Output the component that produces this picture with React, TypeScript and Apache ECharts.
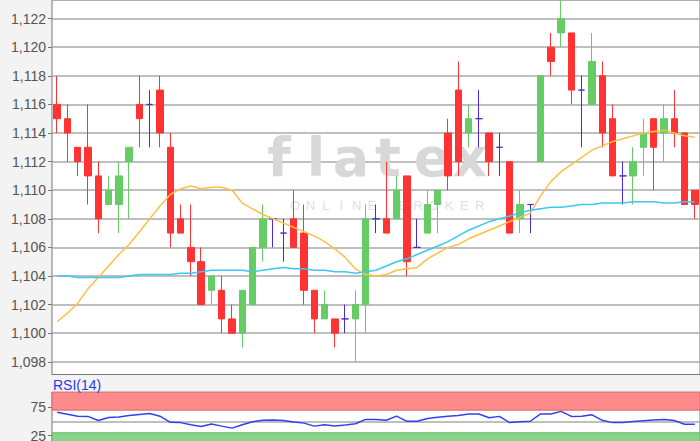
import React, { useEffect, useRef } from "react";
import * as echarts from "echarts";

const categories = Array.from({ length: 63 }, (_, i) => String(i + 1));

const opens = [
  1.116, 1.115, 1.113, 1.113, 1.111, 1.109, 1.109, 1.112, 1.116, 1.116,
  1.117, 1.113, 1.108, 1.106, 1.105, 1.103, 1.103, 1.101, 1.100, 1.102,
  1.106, 1.108, 1.107, 1.108, 1.107, 1.103, 1.101, 1.101, 1.101, 1.101,
  1.102, 1.108, 1.108, 1.108, 1.111, 1.106, 1.107, 1.109, 1.114, 1.117,
  1.114, 1.115, 1.114, 1.113, 1.112, 1.108, 1.109, 1.112, 1.120, 1.121,
  1.121, 1.117, 1.116, 1.118, 1.115, 1.111, 1.111, 1.113, 1.115, 1.114,
  1.115, 1.114, 1.110,
];
const closes = [
  1.115, 1.114, 1.112, 1.111, 1.108, 1.110, 1.111, 1.113, 1.115, 1.116,
  1.114, 1.107, 1.107, 1.105, 1.102, 1.104, 1.101, 1.100, 1.103, 1.106,
  1.108, 1.108, 1.107, 1.106, 1.103, 1.101, 1.102, 1.100, 1.101, 1.102,
  1.108, 1.108, 1.107, 1.110, 1.105, 1.106, 1.109, 1.110, 1.111, 1.112,
  1.115, 1.115, 1.112, 1.113, 1.107, 1.109, 1.109, 1.118, 1.119, 1.122,
  1.117, 1.117, 1.119, 1.114, 1.111, 1.111, 1.112, 1.114, 1.113, 1.115,
  1.114, 1.109, 1.109,
];
const highs = [
  1.118, 1.116, 1.113, 1.116, 1.112, 1.111, 1.112, 1.113, 1.118, 1.117,
  1.118, 1.114, 1.109, 1.109, 1.106, 1.104, 1.104, 1.102, 1.103, 1.106,
  1.109, 1.108, 1.108, 1.110, 1.109, 1.103, 1.103, 1.101, 1.102, 1.103,
  1.109, 1.109, 1.112, 1.111, 1.111, 1.108, 1.110, 1.110, 1.115, 1.119,
  1.116, 1.117, 1.114, 1.114, 1.112, 1.110, 1.109, 1.118, 1.121, 1.124,
  1.121, 1.118, 1.121, 1.119, 1.116, 1.112, 1.113, 1.115, 1.115, 1.116,
  1.117, 1.114, 1.110,
];
const lows = [
  1.114, 1.112, 1.111, 1.109, 1.107, 1.109, 1.107, 1.108, 1.113, 1.113,
  1.113, 1.106, 1.107, 1.104, 1.102, 1.102, 1.100, 1.100, 1.099, 1.102,
  1.105, 1.106, 1.105, 1.106, 1.102, 1.100, 1.101, 1.099, 1.100, 1.098,
  1.100, 1.107, 1.107, 1.108, 1.104, 1.106, 1.107, 1.107, 1.110, 1.111,
  1.113, 1.113, 1.111, 1.111, 1.107, 1.107, 1.107, 1.112, 1.118, 1.120,
  1.116, 1.113, 1.116, 1.113, 1.111, 1.109, 1.109, 1.111, 1.110, 1.112,
  1.113, 1.109, 1.108,
];

const maShort = [
  1.1008, 1.1014, 1.1021, 1.1031, 1.1039, 1.1047, 1.1055, 1.1062, 1.1071, 1.108,
  1.1089, 1.1097, 1.1101, 1.1103, 1.1101, 1.1102, 1.1102, 1.11, 1.1091, 1.1087,
  1.1083, 1.108, 1.1077, 1.1074, 1.1071, 1.1068, 1.1064, 1.1059, 1.1053, 1.1045,
  1.1041, 1.104, 1.1041, 1.1044, 1.1045, 1.1046, 1.1052, 1.1056, 1.106, 1.1062,
  1.1066, 1.1069, 1.1072, 1.1075, 1.1078, 1.1081, 1.1084, 1.1096, 1.1106, 1.1113,
  1.1118, 1.1123, 1.1128, 1.1131, 1.1134, 1.1136, 1.1138, 1.114, 1.1141, 1.1142,
  1.114, 1.1138, 1.1137,
];
const maLong = [
  1.104, 1.104, 1.1039, 1.1039, 1.1039, 1.1039, 1.1039, 1.104, 1.1041, 1.1041,
  1.1041, 1.1041, 1.1042, 1.1042, 1.1043, 1.1044, 1.1044, 1.1044, 1.1044, 1.1043,
  1.1044, 1.1045, 1.1046, 1.1045, 1.1045, 1.1044, 1.1044, 1.1043, 1.1043, 1.1042,
  1.1043, 1.1044, 1.1047, 1.105, 1.1052, 1.1055, 1.1058, 1.1061, 1.1064, 1.1068,
  1.1072, 1.1075, 1.1078, 1.108, 1.1082, 1.1084, 1.1086, 1.1087, 1.1088, 1.1088,
  1.1089, 1.109, 1.109, 1.1091, 1.1091, 1.1091, 1.1092, 1.1092, 1.1092, 1.1091,
  1.1091, 1.1092, 1.1092,
];
const rsi = [
  66.1, 62.8, 59.4, 59.0, 51.8, 57.1, 57.9, 60.4, 62.3, 64.2,
  59.4, 48.5, 48.0, 44.2, 41.2, 45.6, 41.8, 38.3, 44.2, 49.5,
  52.1, 52.8, 51.8, 49.0, 47.1, 41.8, 44.2, 42.0, 43.7, 46.1,
  53.7, 53.7, 52.1, 59.4, 50.3, 50.3, 55.2, 57.5, 59.4, 60.4,
  63.3, 63.3, 56.6, 59.0, 48.0, 49.5, 50.4, 63.3, 63.3, 67.8,
  59.0, 59.1, 61.8, 52.1, 48.0, 48.0, 49.9, 51.5, 52.8, 53.7,
  51.8, 45.2, 45.2,
];
const priceLabelRange = [1.098, 1.122];
const rsiTicks = [25, 75];
const rsiBands = { overboughtFrom: 70, oversoldTo: 30, mid: 50 };
const watermarkLetters = ["f", "l", "a", "t", "e", "x"];
const watermarkSub = "ONLINE BROKER";

const FONT = "'Liberation Sans', Arial, sans-serif";

export default function App() {
  const ref = useRef<HTMLDivElement>(null);

  useEffect(() => {
    document.body.style.margin = "0";
    if (!ref.current) return;
    const chart = echarts.init(ref.current, undefined, { renderer: "svg" });

    const wmX = [279, 316, 351, 388, 432, 470];
    const graphics: any[] = [];
    watermarkLetters.forEach((ch, i) => {
      graphics.push({
        type: "text",
        z: 1,
        silent: true,
        x: wmX[i],
        y: 184,
        style: {
          text: ch,
          fill: "#d8d8d8",
          fontSize: 54,
          fontWeight: "bold",
          fontFamily: "'DejaVu Sans', sans-serif",
          align: "center",
          verticalAlign: "bottom",
          textAlign: "center",
          textVerticalAlign: "bottom",
        },
      });
    });
    watermarkSub.split("").forEach((ch, i) => {
      graphics.push({
        type: "text",
        z: 1,
        silent: true,
        x: 295 + i * 15.4,
        y: 205,
        style: {
          text: ch,
          fill: "#e0e0e0",
          fontSize: 13,
          fontFamily: FONT,
          align: "center",
          verticalAlign: "middle",
          textAlign: "center",
          textVerticalAlign: "middle",
        },
      });
    });
    graphics.push({
      type: "rect",
      z: 100,
      silent: true,
      shape: { x: 0, y: 375, width: 700, height: 16.5 },
      style: { fill: "#f3f3f3" },
    });
    graphics.push({
      type: "line",
      z: 101,
      silent: true,
      shape: { x1: 52, y1: 374.5, x2: 700, y2: 374.5 },
      style: { stroke: "#777", lineWidth: 1 },
    });
    graphics.push({
      type: "text",
      z: 102,
      silent: true,
      x: 53,
      y: 385,
      style: {
        text: "RSI(14)",
        fill: "#2a3ae8",
        fontSize: 14,
        fontFamily: FONT,
        align: "left",
        verticalAlign: "middle",
        textAlign: "left",
        textVerticalAlign: "middle",
      },
    });

    const option: any = {
      animation: false,
      backgroundColor: "#f3f3f3",
      grid: [
        {
          left: 52, right: 0, top: 0, height: 390.4,
          outerBoundsMode: "none", containLabel: false,
          show: true, backgroundColor: "#ffffff", borderColor: "#777", borderWidth: 1,
        },
        {
          left: 52, right: 0, top: 392, height: 72,
          outerBoundsMode: "none", containLabel: false,
          show: true, backgroundColor: "#ffffff", borderColor: "#777", borderWidth: 1,
        },
      ],
      xAxis: [
        {
          type: "category", gridIndex: 0, data: categories, boundaryGap: true,
          axisLine: { show: false }, axisTick: { show: false },
          axisLabel: { show: false }, splitLine: { show: false },
        },
        {
          type: "category", gridIndex: 1, data: categories, boundaryGap: true,
          axisLine: { show: false }, axisTick: { show: false },
          axisLabel: { show: false }, splitLine: { show: false },
        },
      ],
      yAxis: [
        {
          type: "value", gridIndex: 0, min: 1.096, max: 1.1233, interval: 0.002,
          axisLine: { show: false },
          axisTick: { show: true, length: 4, lineStyle: { color: "#777" } },
          axisLabel: {
            color: "#555", fontSize: 14, fontFamily: FONT, margin: 6,
            showMinLabel: false, showMaxLabel: false,
            formatter: (v: number) =>
              v < priceLabelRange[0] - 0.0005 || v > priceLabelRange[1] + 0.0005
                ? ""
                : v.toFixed(3).replace(".", ","),
          },
          splitLine: { show: true, lineStyle: { color: "#aaaaaa", width: 1.5 } },
        },
        {
          type: "value", gridIndex: 1, min: -25, max: 102, interval: 25,
          axisLine: { show: false },
          axisTick: { show: true, length: 4, lineStyle: { color: "#777" }, customValues: rsiTicks },
          axisLabel: {
            color: "#555", fontSize: 14, fontFamily: FONT, margin: 6,
            customValues: rsiTicks,
            formatter: (v: number) => (rsiTicks.indexOf(v) >= 0 ? String(v) : ""),
          },
          splitLine: { show: false },
        },
      ],
      series: [
        {
          type: "candlestick",
          xAxisIndex: 0, yAxisIndex: 0,
          barWidth: 7,
          data: opens.map((o, i) => [o, closes[i], lows[i], highs[i]]),
          itemStyle: {
            color: "#66cc66", color0: "#ff3333",
            borderColor: "#66cc66", borderColor0: "#ff3333",
            borderColorDoji: "#4a2ad8", borderWidth: 1,
          },
        },
        {
          type: "line", xAxisIndex: 0, yAxisIndex: 0, data: maShort,
          symbol: "none", showSymbol: false, smooth: false,
          lineStyle: { color: "#ffbf47", width: 1.5 },
        },
        {
          type: "line", xAxisIndex: 0, yAxisIndex: 0, data: maLong,
          symbol: "none", showSymbol: false,
          lineStyle: { color: "#3cc8f0", width: 1.5 },
        },
        {
          type: "line", xAxisIndex: 1, yAxisIndex: 1, data: rsi,
          symbol: "none", showSymbol: false,
          lineStyle: { color: "#3040ee", width: 1.5 },
          z: 5,
          markArea: {
            silent: true,
            data: [
              [
                { yAxis: rsiBands.overboughtFrom, itemStyle: { color: "#ff8a8a", borderColor: "#d86a6a", borderWidth: 1 } },
                { yAxis: 102 },
              ],
              [
                { yAxis: -25, itemStyle: { color: "#88d488", borderColor: "#5fb65f", borderWidth: 1 } },
                { yAxis: rsiBands.oversoldTo },
              ],
            ],
          },
          markLine: {
            silent: true, symbol: "none", label: { show: false },
            lineStyle: { color: "#aaaaaa", width: 1.5, type: "solid" },
            data: [{ yAxis: rsiBands.mid }],
          },
        },
      ],
      graphic: graphics,
    };

    chart.setOption(option);
    return () => chart.dispose();
  }, []);

  return (
    <div
      ref={ref}
      style={{ position: "fixed", left: 0, top: 0, width: 700, height: 441 }}
    />
  );
}
